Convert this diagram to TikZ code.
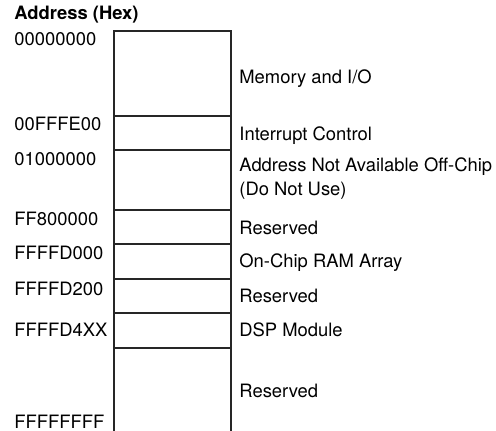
\documentclass[tikz,border=0pt]{standalone}
\usepackage{fontspec}
\setmainfont{TeX Gyre Heros}
\begin{document}
\begin{tikzpicture}[x=0.5pt,y=-0.5pt,
  lab/.style={inner sep=0pt,anchor=base west,font=\fontsize{9.2}{11}\selectfont},
  hdr/.style={lab,font=\fontsize{9.2}{11}\selectfont\bfseries},
  mapline/.style={line width=0.65pt,draw=black!85}]
\useasboundingbox (0,0) rectangle (496,431);
% memory map column
\draw[mapline] (114,431) -- (114,31) -- (231,31) -- (231,431);
\foreach \y in {116,150,210,244,279,313,348} \draw[mapline] (114,\y) -- (231,\y);
% header
\node[hdr] (h) at (14,20) {Address (Hex)};
% addresses
\node[lab] (a0) at (14,46) {00000000};
\node[lab] (a1) at (14,131) {00FFFE00};
\node[lab] (a2) at (14,166) {01000000};
\node[lab] (a3) at (14,226) {FF800000};
\node[lab] (a4) at (14,260) {FFFFD000};
\node[lab] (a5) at (14,296) {FFFFD200};
\node[lab] (a6) at (14,337) {FFFFD4XX};
\node[lab] (a7) at (14,428) {FFFFFFFF};
% region labels
\node[lab] (r0) at (239,84) {Memory and I/O};
\node[lab] (r1) at (239,141) {Interrupt Control};
\node[lab] (r2) at (239,172) {Address Not Available Off-Chip};
\node[lab] (r2b) at (239,196) {(Do Not Use)};
\node[lab] (r3) at (239,235) {Reserved};
\node[lab] (r4) at (239,268) {On-Chip RAM Array};
\node[lab] (r5) at (239,303) {Reserved};
\node[lab] (r6) at (239,337) {DSP Module};
\node[lab] (r7) at (239,397) {Reserved};
\end{tikzpicture}
\end{document}
